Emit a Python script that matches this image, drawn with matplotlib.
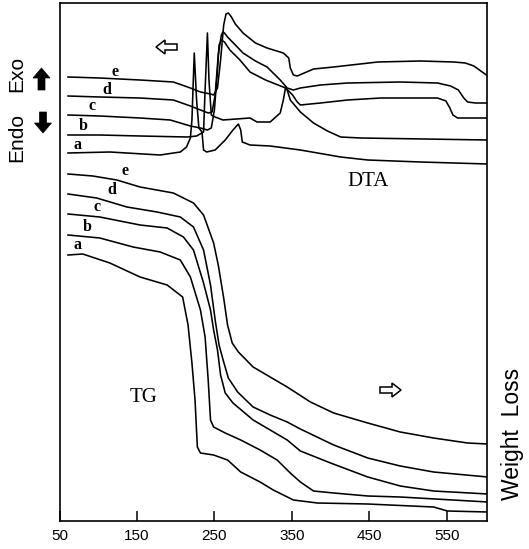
import matplotlib
matplotlib.use("Agg")
import matplotlib.pyplot as plt
from matplotlib.patches import FancyArrow
from matplotlib.transforms import IdentityTransform

# ---------------- data (temperature in deg C, signal in arbitrary units) ----
labels = ["a", "b", "c", "d", "e"]

# DTA curves
dta_a_T = [61, 115, 180, 206, 214, 219, 221, 224, 227, 230, 234, 236, 240, 251, 264, 274, 281, 284, 286, 296, 322, 361, 413, 448, 516, 603]
dta_a_y = [368, 369, 366, 369, 374, 383, 401, 468, 421, 393, 389, 371, 369, 371, 381, 391, 397, 391, 379, 376, 375, 371, 364, 361, 359, 357]

dta_b_T = [61, 102, 154, 215, 227, 236, 238, 241, 243, 246, 251, 261, 296, 305, 322, 335, 339, 342, 344, 348, 361, 378, 396, 413, 439, 603]
dta_b_y = [386, 386, 385, 384, 385, 389, 431, 488, 441, 406, 404, 401, 403, 399, 399, 408, 421, 434, 431, 421, 409, 398, 390, 384, 383, 381]

dta_c_T = [61, 102, 154, 193, 219, 232, 241, 246, 250, 254, 256, 259, 263, 270, 283, 296, 316, 342, 351, 357, 361, 387, 422, 465, 538, 549, 554, 558, 564, 603]
dta_c_y = [406, 405, 403, 401, 395, 393, 391, 393, 411, 451, 476, 481, 479, 471, 461, 449, 441, 433, 426, 419, 416, 418, 421, 423, 423, 420, 413, 406, 403, 403]

dta_d_T = [61, 102, 154, 197, 219, 232, 242, 247, 251, 255, 259, 261, 263, 267, 277, 287, 303, 318, 335, 344, 352, 361, 387, 422, 490, 538, 555, 565, 572, 577, 587, 603]
dta_d_y = [425, 424, 423, 421, 415, 411, 408, 409, 426, 466, 486, 489, 488, 484, 476, 468, 460, 454, 441, 433, 431, 433, 436, 438, 439, 438, 435, 431, 423, 419, 418, 418]

dta_e_T = [61, 102, 154, 197, 219, 232, 245, 249, 254, 258, 262, 265, 268, 272, 277, 287, 303, 318, 339, 346, 348, 352, 357, 378, 404, 461, 516, 559, 574, 585, 594, 603]
dta_e_y = [444, 443, 441, 439, 433, 429, 427, 426, 433, 461, 496, 507, 508, 504, 497, 488, 478, 473, 468, 463, 453, 446, 445, 452, 454, 459, 460, 459, 458, 455, 450, 445]

# TG curves
tg_a_T = [61, 80, 115, 154, 189, 209, 216, 221, 225, 228, 232, 249, 267, 284, 309, 326, 352, 383, 448, 533, 551, 603]
tg_a_y = [266, 267, 258, 244, 236, 224, 196, 158, 121, 74, 68, 66, 61, 49, 39, 31, 21, 18, 17, 14, 10, 9]

tg_b_T = [61, 102, 145, 180, 206, 219, 232, 238, 242, 245, 249, 264, 284, 309, 331, 348, 361, 378, 404, 448, 490, 603]
tg_b_y = [286, 283, 274, 269, 261, 244, 211, 184, 141, 101, 94, 88, 81, 71, 61, 48, 39, 30, 28, 25, 24, 19]

tg_c_T = [61, 102, 154, 189, 210, 223, 236, 245, 249, 254, 258, 264, 274, 300, 344, 361, 400, 448, 490, 533, 603]
tg_c_y = [307, 304, 296, 293, 284, 271, 238, 211, 191, 171, 146, 128, 118, 101, 81, 70, 58, 44, 35, 30, 27]

tg_d_T = [61, 98, 137, 176, 206, 223, 236, 245, 251, 256, 262, 268, 280, 300, 322, 344, 361, 404, 448, 490, 533, 603]
tg_d_y = [327, 323, 314, 309, 304, 294, 271, 236, 201, 176, 159, 143, 129, 114, 106, 99, 92, 76, 63, 55, 49, 44]

tg_e_T = [61, 93, 124, 154, 197, 223, 236, 249, 255, 262, 267, 273, 281, 300, 322, 344, 374, 404, 448, 490, 533, 577, 603]
tg_e_y = [347, 345, 341, 334, 328, 318, 306, 278, 256, 223, 196, 178, 169, 154, 144, 134, 119, 108, 98, 89, 83, 78, 77]

xticks = [50, 150, 250, 350, 450, 550]

# ---------------- figure ----------------
W, H, DPI = 529, 549, 100
fig = plt.figure(figsize=(W / DPI, H / DPI), dpi=DPI)
ax = fig.add_axes([59.5 / W, 1 - 521 / H, (487 - 59.5) / W, (521 - 3) / H])

lw = 1.15
for T, y in [(dta_a_T, dta_a_y), (dta_b_T, dta_b_y), (dta_c_T, dta_c_y),
             (dta_d_T, dta_d_y), (dta_e_T, dta_e_y),
             (tg_a_T, tg_a_y), (tg_b_T, tg_b_y), (tg_c_T, tg_c_y),
             (tg_d_T, tg_d_y), (tg_e_T, tg_e_y)]:
    ax.plot(T, y, color="black", lw=lw, solid_joinstyle="round")

ax.set_xlim(50, 602)
ax.set_ylim(0, 518)
ax.set_xticks(xticks)
ax.set_xticklabels([str(v) for v in xticks], fontfamily="Liberation Sans", fontsize=11)
ax.tick_params(axis="x", direction="in", length=7, width=1.1, pad=6, top=False)
ax.set_yticks([])
for s in ax.spines.values():
    s.set_linewidth(1.2)

# curve letters
serif = "Liberation Serif"
dta_lab_pos = [(72.6, 376), (80.5, 395), (92, 415), (111, 431), (122, 449)]
tg_lab_pos = [(72.6, 276), (85.6, 294), (98.5, 314), (118, 331), (135, 350)]
for lab, (tx, ty) in zip(labels, dta_lab_pos):
    ax.text(tx, ty, lab, fontfamily=serif, fontsize=11.5, fontweight="bold", ha="center", va="center")
for lab, (tx, ty) in zip(labels, tg_lab_pos):
    ax.text(tx, ty, lab, fontfamily=serif, fontsize=11.5, fontweight="bold", ha="center", va="center")

ax.text(449, 339, "DTA", fontfamily=serif, fontsize=15, ha="center", va="center")
ax.text(158, 123, "TG", fontfamily=serif, fontsize=15, ha="center", va="center")

# hollow arrows (pixel coordinates, origin bottom-left)
ident = IdentityTransform()
fig.patches.append(FancyArrow(177, H - 47, -21, 0, width=6, head_width=14, head_length=9,
                              length_includes_head=True, facecolor="white", edgecolor="black",
                              lw=1.1, transform=ident, figure=fig))
fig.patches.append(FancyArrow(380, H - 390, 21, 0, width=6, head_width=14, head_length=9,
                              length_includes_head=True, facecolor="white", edgecolor="black",
                              lw=1.1, transform=ident, figure=fig))
# filled up/down arrows
fig.patches.append(FancyArrow(41.5, H - 90, 0, 22, width=7, head_width=17, head_length=10,
                              length_includes_head=True, facecolor="black", edgecolor="black",
                              lw=0.5, transform=ident, figure=fig))
fig.patches.append(FancyArrow(43, H - 112, 0, -21, width=7, head_width=17, head_length=10,
                              length_includes_head=True, facecolor="black", edgecolor="black",
                              lw=0.5, transform=ident, figure=fig))

sans = "Liberation Sans"
fig.text(17 / W, 1 - 74 / H, "Exo", rotation=90, fontfamily=sans, fontsize=15, ha="center", va="center")
fig.text(17 / W, 1 - 137 / H, "Endo", rotation=90, fontfamily=sans, fontsize=15, ha="center", va="center")
fig.text(512 / W, 1 - 434 / H, "Weight  Loss", rotation=90, fontfamily=sans, fontsize=16.5, ha="center", va="center")

fig.savefig("out.png", dpi=DPI)
